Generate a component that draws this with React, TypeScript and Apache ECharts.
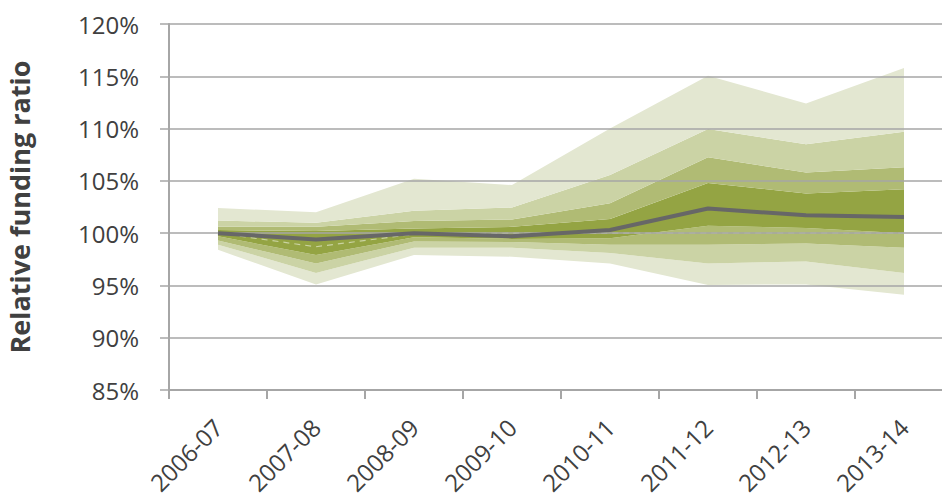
import React, { useEffect, useRef } from "react";
import * as echarts from "echarts";

const categories = ["2006-07", "2007-08", "2008-09", "2009-10", "2010-11", "2011-12", "2012-13", "2013-14"];
const p5 = [98.4, 95.1, 97.9, 97.75, 97.1, 95.05, 95.1, 94.1];
const p10 = [98.9, 96.2, 98.6, 98.6, 98.1, 97.1, 97.3, 96.2];
const p20 = [99.3, 97.1, 99.2, 99.15, 98.9, 98.9, 99.0, 98.6];
const p30 = [99.7, 97.9, 99.6, 99.45, 99.5, 100.7, 100.5, 100.0];
const median = [100.0, 99.4, 100.0, 99.7, 100.3, 102.35, 101.7, 101.55];
const p70 = [100.3, 100.2, 100.45, 100.6, 101.35, 104.8, 103.8, 104.2];
const p80 = [100.6, 100.6, 101.16, 101.3, 102.85, 107.25, 105.8, 106.3];
const p90 = [101.2, 101.0, 102.15, 102.45, 105.55, 109.96, 108.5, 109.7];
const p95 = [102.4, 102.0, 105.2, 104.6, 110.0, 115.06, 112.4, 115.8];
const dashedRef = [100.0, 98.7, 99.9, 100.0, 100.0, 100.0, 100.0, 100.0];
const yTicks = { min: 85, max: 120, interval: 5 };

const bandColors = ["#e3e7d1", "#cbd3a5", "#b0bb74", "#94a443", "#b0bb74", "#cbd3a5", "#e3e7d1"];
const FONT = "'Open Sans', sans-serif";

export default function App() {
  const ref = useRef<HTMLDivElement>(null);
  useEffect(() => {
    if (!ref.current) return;
    const chart = echarts.init(ref.current, undefined, { renderer: "svg" });
    const bounds = [p5, p10, p20, p30, p70, p80, p90, p95];
    const diff = (a: number[], b: number[]) => a.map((v, i) => +(v - b[i]).toFixed(3));
    const bandSeries: any[] = [
      {
        type: "line",
        stack: "fan",
        data: p5,
        symbol: "none",
        lineStyle: { width: 0, opacity: 0 },
        areaStyle: { opacity: 0 },
        silent: true,
        z: 1,
      },
    ];
    for (let k = 1; k < bounds.length; k++) {
      bandSeries.push({
        type: "line",
        stack: "fan",
        data: diff(bounds[k], bounds[k - 1]),
        symbol: "none",
        lineStyle: { width: 0, opacity: 0 },
        areaStyle: { color: bandColors[k - 1], opacity: 1 },
        silent: true,
        z: 1,
      });
    }
    chart.setOption({
      animation: false,
      grid: { left: 169, top: 24, bottom: 110, right: 7, containLabel: false, outerBoundsMode: "none" },
      xAxis: {
        type: "category",
        data: categories,
        boundaryGap: true,
        z: 3,
        axisLine: { show: true, lineStyle: { color: "#a6a6a6", width: 2 } },
        axisTick: { show: true, length: 9, lineStyle: { color: "#a6a6a6", width: 2 } },
        axisLabel: {
          rotate: 45,
          margin: 33,
          fontFamily: FONT,
          fontSize: 24,
          color: "#404040",
          interval: 0,
        },
        splitLine: { show: false },
      },
      yAxis: {
        type: "value",
        min: yTicks.min,
        max: yTicks.max,
        interval: yTicks.interval,
        z: 3,
        name: "Relative funding ratio",
        nameLocation: "middle",
        nameRotate: 90,
        nameGap: 136,
        nameTextStyle: { fontFamily: FONT, fontSize: 27, fontWeight: "bold", color: "#404040" },
        axisLine: { show: true, lineStyle: { color: "#a6a6a6", width: 2 } },
        axisTick: { show: true, length: 9, lineStyle: { color: "#a6a6a6", width: 1.5 } },
        axisLabel: {
          margin: 30,
          fontFamily: FONT,
          fontSize: 24,
          color: "#404040",
          formatter: (v: number) => `${v}%`,
        },
        splitLine: { show: true, lineStyle: { color: "#a6a6a6", width: 1.5 } },
      },
      series: [
        ...bandSeries,
        {
          type: "line",
          data: dashedRef,
          symbol: "none",
          lineStyle: { color: "#c9d2a0", width: 1.2, type: [6, 5] },
          silent: true,
          z: 2,
        },
        {
          type: "line",
          data: median,
          symbol: "none",
          lineStyle: { color: "#676767", width: 4 },
          silent: true,
          z: 5,
        },
      ],
    });
    return () => chart.dispose();
  }, []);
  return (
    <div style={{ position: "absolute", left: 0, top: 0, width: 942, height: 500, overflow: "hidden", background: "#fff" }}>
      <div ref={ref} style={{ width: 960, height: 500 }} />
    </div>
  );
}
